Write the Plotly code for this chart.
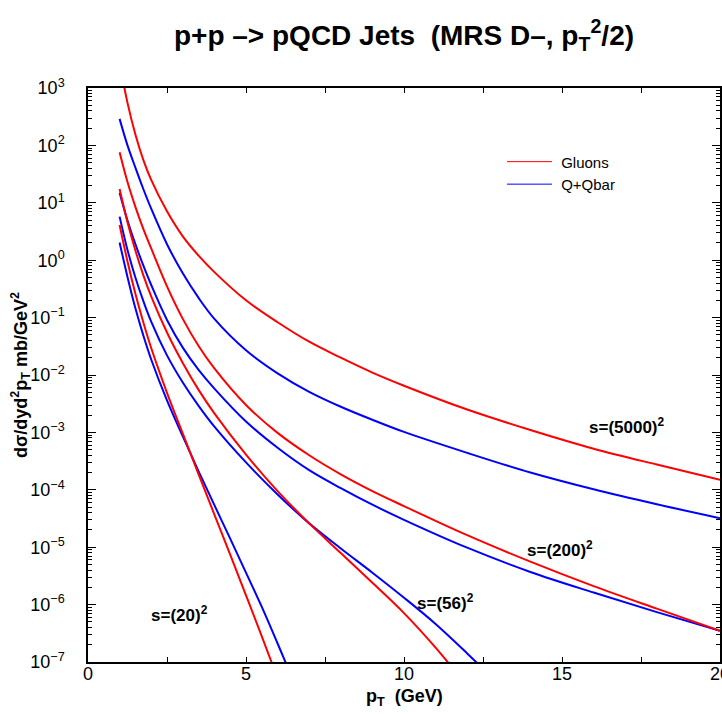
import math
import plotly.graph_objects as go

# ---------------- data ----------------
pt_grid = [1, 1.25, 1.5, 1.75, 2, 2.5, 3, 3.5, 4, 5, 6, 7, 8, 9, 10, 12, 14, 16, 18, 20]

gluon_5000 = [2.8e3, 5.5e2, 1.55e2, 5.6e1, 2.5e1, 7.1, 2.6, 1.2, 6.2e-1, 2.0e-1, 8.3e-2, 3.8e-2,
              2.0e-2, 1.1e-2, 6.5e-3, 2.5e-3, 1.1e-3, 5.2e-4, 2.75e-4, 1.5e-4]
quark_5000 = [2.9e2, 1.0e2, 4.1e1, 1.74e1, 7.9, 1.9, 5.9e-1, 2.2e-1, 9.5e-2, 2.7e-2, 1.07e-2, 5.1e-3,
              2.8e-3, 1.66e-3, 1.02e-3, 4.4e-4, 2.0e-4, 1.02e-4, 5.6e-5, 3.2e-5]

gluon_200 = [7.6e1, 2.3e1, 8.5, 3.5, 1.6, 3.5e-1, 9.5e-2, 3.2e-2, 1.3e-2, 3.0e-3, 9.8e-4, 4.0e-4,
             1.86e-4, 9.5e-5, 5.2e-5, 1.62e-5, 5.6e-6, 2.1e-6, 8.5e-7, 3.5e-7]
quark_200 = [1.5e1, 4.9, 1.9, 8.1e-1, 3.7e-1, 9.1e-2, 3.0e-2, 1.23e-2, 5.8e-3, 1.55e-3, 5.4e-4, 2.2e-4,
             1.07e-4, 5.5e-5, 3.0e-5, 9.8e-6, 3.7e-6, 1.62e-6, 7.4e-7, 3.5e-7]

pt_g56 = [1, 1.25, 1.5, 1.75, 2, 2.5, 3, 3.5, 4, 5, 6, 7, 8, 9, 10, 11, 11.5]
gluon_56 = [1.74e1, 4.6, 1.48, 5.5e-1, 2.34e-1, 5.5e-2, 1.62e-2, 5.5e-3, 2.14e-3, 4.1e-4, 9.5e-5, 2.6e-5,
            7.9e-6, 2.4e-6, 7.1e-7, 1.78e-7, 8.3e-8]
pt_q56 = [1, 1.25, 1.5, 1.75, 2, 2.5, 3, 3.5, 4, 5, 6, 7, 8, 9, 10, 11, 12, 12.5]
quark_56 = [5.75, 1.51, 5.0e-1, 1.95e-1, 8.5e-2, 2.2e-2, 7.4e-3, 2.9e-3, 1.26e-3, 3.0e-4, 8.3e-5, 2.6e-5,
            9.5e-6, 3.6e-6, 1.32e-6, 4.6e-7, 1.41e-7, 7.6e-8]

pt_g20 = [1, 1.25, 1.5, 1.75, 2, 2.5, 3, 3.5, 4, 4.5, 5, 5.5, 6]
gluon_20 = [4.1, 9.5e-1, 2.6e-1, 8.3e-2, 2.95e-2, 4.9e-3, 9.5e-4, 1.86e-4, 3.7e-5, 7.4e-6, 1.45e-6, 2.8e-7, 5.2e-8]
pt_q20 = [1, 1.25, 1.5, 1.75, 2, 2.5, 3, 3.5, 4, 4.5, 5, 5.5, 6, 6.5]
quark_20 = [2.04, 5.1e-1, 1.45e-1, 4.9e-2, 1.86e-2, 3.6e-3, 8.5e-4, 2.1e-4, 5.4e-5, 1.41e-5, 3.6e-6, 9.1e-7,
            2.1e-7, 4.7e-8]

energy_labels = ["s=(5000)<sup>2</sup>", "s=(200)<sup>2</sup>", "s=(56)<sup>2</sup>", "s=(20)<sup>2</sup>"]
label_x = [17.05, 14.95, 11.3, 2.9]
label_y = [1.3e-3, 9.3e-6, 1.12e-6, 6.8e-7]

y_exponents = [-7, -6, -5, -4, -3, -2, -1, 0, 1, 2, 3]
x_ticks = [0, 5, 10, 15, 20]

RED = "#ff0000"
BLUE = "#0000ff"
FONT = "Liberation Sans, Arial, Helvetica, sans-serif"

# ---------------- figure ----------------
fig = go.Figure()

curves = [
    (pt_grid, quark_200, BLUE),
    (pt_grid, gluon_5000, RED),
    (pt_grid, quark_5000, BLUE),
    (pt_grid, gluon_200, RED),
    (pt_q56, quark_56, BLUE),
    (pt_g56, gluon_56, RED),
    (pt_q20, quark_20, BLUE),
    (pt_g20, gluon_20, RED),
]
for xs, ys, col in curves:
    fig.add_trace(go.Scatter(x=xs, y=ys, mode="lines",
                             line=dict(color=col, width=2, shape="spline", smoothing=1.0),
                             showlegend=False, hoverinfo="skip"))

# legend entries
fig.add_trace(go.Scatter(x=[None], y=[None], mode="lines", name="\u00a0Gluons",
                         line=dict(color=RED, width=1)))
fig.add_trace(go.Scatter(x=[None], y=[None], mode="lines", name="\u00a0Q+Qbar",
                         line=dict(color=BLUE, width=1)))

minor_vals = [m * 10 ** e for e in range(-7, 3) for m in range(2, 10)]

fig.update_layout(
    width=722, height=714,
    margin=dict(l=88, r=2, t=88, b=52, autoexpand=False),
    paper_bgcolor="white", plot_bgcolor="white",
    font=dict(family=FONT, color="black"),
    title=dict(text="<b>p+p –> pQCD Jets\u00a0\u00a0(MRS D–, p<sub>T</sub><sup>2</sup>/2)</b>",
               x=0.5, xref="paper", xanchor="center", y=1 - 35 / 714, yanchor="middle",
               font=dict(size=28, family=FONT, color="black")),
    legend=dict(x=0.655, y=0.9, xanchor="left", yanchor="top",
                bgcolor="rgba(0,0,0,0)", font=dict(size=15, family=FONT),
                itemwidth=45, tracegroupgap=0),
    showlegend=True,
)

fig.update_xaxes(
    range=[0, 20], tickmode="array", tickvals=x_ticks, ticktext=[str(v) for v in x_ticks],
    ticks="inside", ticklen=5, tickwidth=1, tickcolor="black",
    minor=dict(dtick=2.5, tick0=0, ticks="inside", ticklen=5, tickcolor="black", showgrid=False),
    showline=True, linecolor="black", linewidth=1.5, mirror="ticks",
    showgrid=False, zeroline=False, automargin=False,
    tickfont=dict(size=18, family=FONT), ticklabelstandoff=-5, ticklabeloverflow="allow",
)

fig.update_yaxes(
    type="log", range=[-7, 3],
    tickmode="array", tickvals=[10 ** e for e in y_exponents],
    ticktext=["10<sup>%s</sup>" % (str(e).replace("-", "−")) for e in y_exponents],
    ticks="inside", ticklen=8, tickwidth=1, tickcolor="black",
    minor=dict(tickmode="array", tickvals=minor_vals, ticks="inside", ticklen=4,
               tickcolor="black", showgrid=False),
    showline=True, linecolor="black", linewidth=1.5, mirror="ticks",
    showgrid=False, zeroline=False, automargin=False,
    tickfont=dict(size=18, family=FONT), ticklabelstandoff=18, ticklabeloverflow="allow",
)

annotations = [
    dict(text="<b>dσ/dyd<sup>2</sup>p<sub>T</sub> mb/GeV<sup>2</sup></b>", textangle=-90,
         xref="paper", yref="paper", x=(20 - 88) / 632, y=0.5, xanchor="center", yanchor="middle",
         showarrow=False, font=dict(size=18, family=FONT)),
    dict(text="<b>p<sub>T</sub>\u00a0\u00a0(GeV)</b>", xref="paper", yref="paper",
         x=0.5, y=(662 - 697) / 574, xanchor="center", yanchor="middle",
         showarrow=False, font=dict(size=18, family=FONT)),
]
for t, lx, ly in zip(energy_labels, label_x, label_y):
    annotations.append(dict(text="<b>%s</b>" % t, x=lx, y=math.log10(ly),
                            xref="x", yref="y", showarrow=False, xanchor="center", yanchor="middle",
                            font=dict(size=17, family=FONT)))
fig.update_layout(annotations=annotations)

fig.write_html("out.html")
